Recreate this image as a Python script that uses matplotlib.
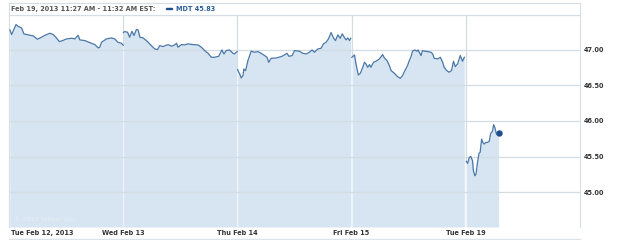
import matplotlib
matplotlib.use("Agg")
import matplotlib.pyplot as plt
from matplotlib.patches import Rectangle, FancyBboxPatch

# ---------------- data ----------------
day_labels = ["Tue Feb 12, 2013", "Wed Feb 13", "Thu Feb 14", "Fri Feb 15", "Tue Feb 19"]
y_ticks = [45.00, 45.50, 46.00, 46.50, 47.00]
y_tick_labels = ["45.00", "45.50", "46.00", "46.50", "47.00"]

# minutes after 9:30 open, prices
feb12_min = [3, 9, 24, 32, 43, 51, 66, 83, 97, 111, 123, 140, 151, 160, 172, 183, 197, 214, 225,
             236, 242, 259, 276, 293, 305, 310, 316, 333, 350, 361, 372, 384, 390]
feb12_px = [47.276, 47.211, 47.351, 47.323, 47.304, 47.220, 47.206, 47.192, 47.145, 47.173, 47.201,
            47.229, 47.211, 47.173, 47.112, 47.126, 47.150, 47.159, 47.150, 47.201, 47.136, 47.126,
            47.098, 47.070, 47.023, 47.033, 47.103, 47.150, 47.164, 47.150, 47.103, 47.089, 47.061]

feb13_min = [1, 5, 15, 22, 30, 37, 45, 51, 57, 68, 79, 85, 96, 108, 117, 125, 136, 153, 165, 176, 182,
             187, 199, 210, 221, 238, 255, 267, 278, 290, 301, 312, 326, 337, 344, 352, 363, 375,
             380, 389]
feb13_px = [47.240, 47.253, 47.243, 47.173, 47.257, 47.197, 47.281, 47.276, 47.173, 47.164, 47.126,
            47.103, 47.056, 47.009, 47.000, 47.056, 47.042, 47.070, 47.047, 47.066, 47.089, 47.033,
            47.070, 47.066, 47.080, 47.070, 47.066, 47.033, 46.986, 46.948, 46.892, 46.892, 46.906,
            46.995, 46.939, 46.986, 46.995, 46.948, 46.939, 46.972]

feb14_min = [1, 2, 8, 13, 19, 22, 28, 36, 47, 59, 70, 81, 93, 101, 107, 115, 133, 150, 161, 169, 176,
             187, 195, 212, 223, 235, 246, 255, 263, 275, 286, 294, 303, 311, 320, 328, 335, 343,
             351, 358, 365, 371, 377, 383, 387]
feb14_px = [46.720, 46.705, 46.658, 46.602, 46.635, 46.728, 46.705, 46.846, 46.977, 46.963, 46.972,
            46.948, 46.916, 46.892, 46.822, 46.878, 46.883, 46.902, 46.925, 46.948, 46.906, 46.916,
            46.986, 46.977, 46.948, 46.939, 46.963, 46.995, 46.963, 47.009, 47.019, 47.080, 47.103,
            47.150, 47.239, 47.164, 47.126, 47.206, 47.159, 47.220, 47.173, 47.136, 47.164, 47.126,
            47.159]

feb15_min = [1, 10, 15, 23, 30, 38, 44, 49, 55, 61, 66, 75, 83, 95, 106, 112, 121, 129, 135, 146,
             157, 166, 174, 182, 191, 197, 203, 208, 216, 223, 227, 237, 242, 250, 260, 271, 277,
             282, 294, 303, 311, 316, 325, 333, 341, 348, 354, 362, 371, 379, 385]
feb15_px = [46.892, 46.925, 46.799, 46.644, 46.668, 46.752, 46.822, 46.799, 46.752, 46.789, 46.752,
            46.822, 46.836, 46.869, 46.930, 46.883, 46.846, 46.775, 46.705, 46.668, 46.621, 46.597,
            46.635, 46.705, 46.775, 46.846, 46.902, 46.977, 46.995, 46.977, 46.995, 46.916, 46.986,
            46.977, 46.972, 46.963, 46.939, 46.878, 46.869, 46.892, 46.822, 46.752, 46.705, 46.682,
            46.705, 46.836, 46.761, 46.799, 46.916, 46.836, 46.892]

feb19_min = [2, 6, 12, 17, 23, 26, 31, 35, 40, 45, 49, 54, 58, 63, 68, 74, 80, 85, 91, 95, 99,
             104, 108, 112]
feb19_px = [45.432, 45.403, 45.488, 45.502, 45.441, 45.301, 45.230, 45.254, 45.418, 45.544, 45.558,
            45.745, 45.698, 45.675, 45.698, 45.698, 45.712, 45.825, 45.853, 45.947, 45.909, 45.825,
            45.806, 45.830]

days_min = [feb12_min, feb13_min, feb14_min, feb15_min, feb19_min]
days_px = [feb12_px, feb13_px, feb14_px, feb15_px, feb19_px]
SESSION = 390.0

header = "Feb 19, 2013 11:27 AM - 11:32 AM EST:"
legend_label = "MDT 45.83"
watermark = "\u00a9 2013 Yahoo! Inc."

# ---------------- style ----------------
W, H = 625, 240
LINE = "#4a77a6"
FILL = "#d6e5f1"
GRID = "#d3dbe3"
FRAME = "#d6dde4"
TXT = "#333333"
BLUE = "#1f4e8c"
FS = 4.7

fig = plt.figure(figsize=(W / 100, H / 100), dpi=100)
fig.patch.set_facecolor("white")

def fx(px):
    return px / W

def fy(py):
    return 1 - py / H

L, R, T, B = 9, 580, 15, 227
ax = fig.add_axes([fx(L), fy(B), fx(R) - fx(L), fy(T) - fy(B)])
ax.set_xlim(0, 5)
ax.set_ylim(44.512, 47.485)
ax.set_facecolor("white")

for s in ax.spines.values():
    s.set_color(FRAME)
    s.set_linewidth(0.8)
ax.spines["bottom"].set_visible(False)

# gridlines
for yv in y_ticks:
    ax.axhline(yv, color=GRID, lw=0.9, zorder=3)
for d in range(1, 5):
    ax.axvline(d, color=GRID, lw=0.9, zorder=0.5)

ymin = ax.get_ylim()[0]
for i, (mins, pxs) in enumerate(zip(days_min, days_px)):
    xs = [i + m / SESSION for m in mins]
    ax.fill_between(xs, pxs, ymin, color=FILL, lw=0, zorder=1)
    ax.plot(xs, pxs, color=LINE, lw=0.9, zorder=4, solid_joinstyle="round")
    if i > 0:
        top = min(days_px[i - 1][-1], pxs[0])
        ax.vlines(i, ymin, top, color="#eef3f8", lw=0.9, zorder=2)

# last price dot
ax.plot([4 + feb19_min[-1] / SESSION], [feb19_px[-1]], "o", color=BLUE, ms=3.6, zorder=5)

ax.set_yticks(y_ticks)
ax.set_yticklabels(y_tick_labels)
ax.yaxis.tick_right()
ax.tick_params(axis="y", length=0, pad=2.5, labelsize=FS, labelcolor=TXT)
for lab in ax.get_yticklabels():
    lab.set_fontweight("bold")
ax.set_xticks([])

# day labels
for i, lbl in enumerate(day_labels):
    if i == 0:
        ax.text(0.004, -0.028, lbl, transform=ax.transAxes, ha="left", va="center",
                fontsize=FS, fontweight="bold", color=TXT)
    else:
        ax.text(i, -0.028, lbl, transform=ax.get_xaxis_transform(), ha="center", va="center",
                fontsize=FS, fontweight="bold", color=TXT)

ax.text(0.008, 0.035, watermark, transform=ax.transAxes, ha="left", va="center",
        fontsize=4.6, color="#e8eff6", zorder=2)

# header band
fig.patches.append(Rectangle((fx(L), fy(T)), fx(R) - fx(L), fy(3) - fy(T), transform=fig.transFigure,
                             facecolor="white", edgecolor=FRAME, lw=0.8))
fig.text(fx(11), fy(9.2), header, ha="left", va="center", fontsize=FS, fontweight="bold", color="#555555")
fig.patches.append(FancyBboxPatch((fx(166), fy(10)), fx(7), fy(8) - fy(10),
                                  boxstyle="round,pad=0,rounding_size=0.002", transform=fig.transFigure,
                                  facecolor=BLUE, edgecolor=BLUE, lw=0.3))
fig.text(fx(176), fy(9.2), legend_label, ha="left", va="center", fontsize=FS, fontweight="bold", color="#2a5d9c")

# bottom rule
fig.add_artist(plt.Line2D([fx(L), fx(R)], [fy(239), fy(239)], transform=fig.transFigure, color="#dfe4ea", lw=1))

fig.savefig("out.png", dpi=100, facecolor="white")
